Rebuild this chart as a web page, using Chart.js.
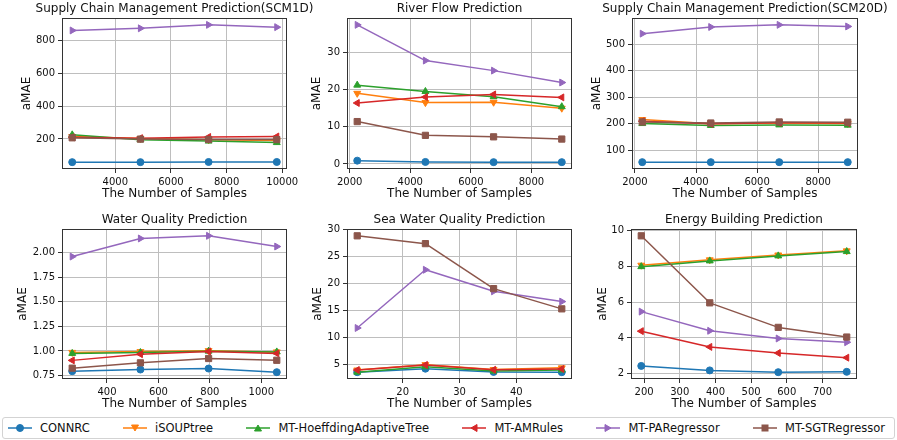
<!DOCTYPE html>
<html>
<head>
<meta charset="utf-8">
<script src="https://cdn.jsdelivr.net/npm/chart.js@4.4.1/dist/chart.umd.min.js"></script>
<style>
  html, body { margin: 0; padding: 0; background: #fff; }
  #fig { position: relative; width: 897px; height: 440px; overflow: hidden; font-family: "DejaVu Sans", sans-serif; }
  #fig canvas { position: absolute; }
  #legend {
    position: absolute; left: 2px; top: 417px; width: 893px; height: 22px;
    box-sizing: border-box; border: 1px solid #d3d3d3; border-radius: 3px;
    display: flex; justify-content: space-between; align-items: center;
    padding: 0 9px 0 5px; font-size: 11.5px; color: #111;
  }
  .item { display: flex; align-items: center; white-space: nowrap; }
  .item svg { margin-right: 8px; }
</style>
</head>
<body>
<div id="fig">
  <div id="legend"></div>
</div>
<script>
// methods, in plotting order
const methods = ["CONNRC", "iSOUPtree", "MT-HoeffdingAdaptiveTree", "MT-AMRules", "MT-PARegressor", "MT-SGTRegressor"];
const colors = ["#1f77b4", "#ff7f0e", "#2ca02c", "#d62728", "#9467bd", "#8c564b"];
const markers = ["circle", "triangleDown", "triangleUp", "triangleLeft", "triangleRight", "square"];

// Supply Chain Management (SCM1D)
const scm1dSamples = [2451, 4902, 7352, 9803];
const scm1dAmae = [
  [59, 59, 60, 60],
  [215, 203, 195, 190],
  [225, 195, 187, 178],
  [210, 205, 212, 215],
  [860, 873, 894, 880],
  [207, 199, 197, 196],
];
const scm1dXTicks = [4000, 6000, 8000, 10000];
const scm1dYTicks = [200, 400, 600, 800];

// River Flow
const riverSamples = [2250, 4500, 6750, 9000];
const riverAmae = [
  [0.9, 0.55, 0.5, 0.5],
  [19.0, 16.5, 16.6, 15.0],
  [21.2, 19.5, 18.1, 15.4],
  [16.4, 18.0, 18.7, 17.9],
  [37.4, 27.8, 25.1, 21.9],
  [11.4, 7.7, 7.3, 6.7],
];
const riverXTicks = [2000, 4000, 6000, 8000];
const riverYTicks = [0, 10, 20, 30];

// Supply Chain Management (SCM20D)
const scm20dSamples = [2241, 4483, 6724, 8966];
const scm20dAmae = [
  [56, 56, 56, 56],
  [216, 200, 203, 201],
  [201, 194, 196, 195],
  [210, 200, 204, 203],
  [539, 564, 572, 566],
  [207, 203, 207, 206],
];
const scm20dXTicks = [2000, 4000, 6000, 8000];
const scm20dYTicks = [100, 200, 300, 400, 500];

// Water Quality
const waterSamples = [265, 530, 795, 1060];
const waterAmae = [
  [0.794, 0.811, 0.821, 0.784],
  [0.985, 0.993, 1.003, 0.99],
  [0.975, 0.984, 0.998, 0.99],
  [0.904, 0.967, 0.995, 0.975],
  [1.959, 2.143, 2.170, 2.061],
  [0.825, 0.879, 0.923, 0.905],
];
const waterXTicks = [400, 600, 800, 1000];
const waterYTicks = [0.75, 1.0, 1.25, 1.5, 1.75, 2.0];

// Sea Water Quality
const seaSamples = [12, 24, 36, 48];
const seaAmae = [
  [3.5, 4.15, 3.55, 3.5],
  [3.9, 4.9, 4.0, 4.3],
  [3.5, 4.5, 3.7, 3.9],
  [3.9, 4.85, 3.95, 4.1],
  [11.7, 22.5, 18.5, 16.6],
  [28.8, 27.35, 19.0, 15.25],
];
const seaXTicks = [20, 30, 40];
const seaYTicks = [5, 10, 15, 20, 25, 30];

// Energy Building
const energySamples = [192, 384, 576, 768];
const energyAmae = [
  [2.44, 2.19, 2.09, 2.11],
  [8.06, 8.36, 8.63, 8.86],
  [7.98, 8.30, 8.58, 8.82],
  [4.38, 3.50, 3.16, 2.90],
  [5.47, 4.40, 3.97, 3.76],
  [9.70, 5.96, 4.59, 4.05],
];
const energyXTicks = [200, 300, 400, 500, 600, 700];
const energyYTicks = [2, 4, 6, 8, 10];

Chart.defaults.font.family = "'DejaVu Sans', sans-serif";
Chart.defaults.color = "#111";

const pointStyles = {
  circle: { style: "circle", rotation: 0, radius: 3.5 },
  triangleDown: { style: "triangle", rotation: 180, radius: 4 },
  triangleUp: { style: "triangle", rotation: 0, radius: 4 },
  triangleLeft: { style: "triangle", rotation: -90, radius: 4 },
  triangleRight: { style: "triangle", rotation: 90, radius: 4 },
  square: { style: "rect", rotation: 0, radius: 4.4 },
};

const TITLE_SPACE = 18;
const X_AXIS_H = 36;
const PAD_RIGHT = 36;

function paddedRange(values) {
  const lo = Math.min(...values);
  const hi = Math.max(...values);
  const pad = (hi - lo) * 0.05;
  return { min: lo - pad, max: hi + pad };
}

function panelDecor(title) {
  return {
    id: "panelDecor",
    afterDraw(chart) {
      const { ctx, chartArea: a } = chart;
      ctx.save();
      ctx.strokeStyle = "#333";
      ctx.lineWidth = 1;
      ctx.strokeRect(Math.round(a.left) + 0.5, Math.round(a.top) + 0.5,
        Math.round(a.right - a.left) - 1, Math.round(a.bottom - a.top) - 1);
      ctx.fillStyle = "#111";
      ctx.font = "12px 'DejaVu Sans', sans-serif";
      ctx.textAlign = "center";
      ctx.textBaseline = "middle";
      ctx.fillText(title, (a.left + a.right) / 2, a.top - 9);
      ctx.restore();
    },
  };
}

function axis(range, tickValues, decimals, title, fixSize) {
  return {
    type: "linear",
    min: range.min,
    max: range.max,
    afterBuildTicks: (scale) => {
      scale.ticks = tickValues
        .filter((v) => v >= range.min && v <= range.max)
        .map((v) => ({ value: v }));
    },
    afterFit: fixSize,
    ticks: {
      font: { size: 10 },
      color: "#111",
      padding: 3,
      autoSkip: false,
      maxRotation: 0,
      callback: (v) => Number(v).toFixed(decimals),
    },
    grid: { color: "#bebebe", lineWidth: 1, tickColor: "#333", tickLength: 4 },
    border: { display: false },
    title: { display: true, text: title, font: { size: 12 }, color: "#111", padding: { top: 4, bottom: 4 } },
  };
}

function makePanel(p) {
  const plotW = p.r - p.l;
  const plotH = p.b - p.t;
  const canvas = document.createElement("canvas");
  canvas.width = p.yw + plotW + PAD_RIGHT;
  canvas.height = TITLE_SPACE + plotH + X_AXIS_H;
  canvas.style.left = (p.l - p.yw) + "px";
  canvas.style.top = (p.t - TITLE_SPACE) + "px";
  document.getElementById("fig").appendChild(canvas);

  const xRange = paddedRange(p.samples);
  const yRange = paddedRange(p.values.flat());

  const datasets = p.values.map((series, i) => {
    const m = pointStyles[markers[i]];
    return {
      label: methods[i],
      data: series.map((v, j) => ({ x: p.samples[j], y: v })),
      borderColor: colors[i],
      backgroundColor: colors[i],
      borderWidth: 1.5,
      borderJoinStyle: "round",
      pointStyle: m.style,
      pointRotation: m.rotation,
      pointRadius: m.radius,
      pointBorderWidth: 1,
      order: methods.length - i,
    };
  });

  new Chart(canvas, {
    type: "line",
    data: { datasets },
    options: {
      responsive: false,
      animation: false,
      layout: { padding: { top: TITLE_SPACE, right: PAD_RIGHT, left: 0, bottom: 0 } },
      scales: {
        x: axis(xRange, p.xTicks, 0, "The Number of Samples", (s) => { s.height = X_AXIS_H; }),
        y: axis(yRange, p.yTicks, p.yDecimals, "aMAE", (s) => { s.width = p.yw; }),
      },
      plugins: { legend: { display: false }, tooltip: { enabled: false } },
    },
    plugins: [panelDecor(p.title)],
  });
}

const panels = [
  { title: "Supply Chain Management Prediction(SCM1D)", samples: scm1dSamples, values: scm1dAmae,
    xTicks: scm1dXTicks, yTicks: scm1dYTicks, yDecimals: 0, l: 62, t: 18, r: 287, b: 169, yw: 46 },
  { title: "River Flow Prediction", samples: riverSamples, values: riverAmae,
    xTicks: riverXTicks, yTicks: riverYTicks, yDecimals: 0, l: 347, t: 18, r: 572, b: 169, yw: 41 },
  { title: "Supply Chain Management Prediction(SCM20D)", samples: scm20dSamples, values: scm20dAmae,
    xTicks: scm20dXTicks, yTicks: scm20dYTicks, yDecimals: 0, l: 632, t: 18, r: 858, b: 169, yw: 46 },
  { title: "Water Quality Prediction", samples: waterSamples, values: waterAmae,
    xTicks: waterXTicks, yTicks: waterYTicks, yDecimals: 2, l: 62, t: 229, r: 287, b: 379, yw: 50 },
  { title: "Sea Water Quality Prediction", samples: seaSamples, values: seaAmae,
    xTicks: seaXTicks, yTicks: seaYTicks, yDecimals: 0, l: 347, t: 229, r: 572, b: 379, yw: 40 },
  { title: "Energy Building Prediction", samples: energySamples, values: energyAmae,
    xTicks: energyXTicks, yTicks: energyYTicks, yDecimals: 0, l: 631, t: 229, r: 857, b: 379, yw: 39 },
];

panels.forEach(makePanel);

// shared legend under the panels
const markerSvg = {
  circle: '<circle cx="12" cy="5" r="3.5"/>',
  triangleDown: '<polygon points="8.5,2 15.5,2 12,8"/>',
  triangleUp: '<polygon points="8.5,8 15.5,8 12,2"/>',
  triangleLeft: '<polygon points="9,5 15,1.5 15,8.5"/>',
  triangleRight: '<polygon points="15,5 9,1.5 9,8.5"/>',
  square: '<rect x="9" y="2" width="6" height="6"/>',
};
const legend = document.getElementById("legend");
methods.forEach((name, i) => {
  const item = document.createElement("div");
  item.className = "item";
  item.innerHTML =
    '<svg width="24" height="10" fill="' + colors[i] + '" stroke="' + colors[i] + '">' +
    '<line x1="0" y1="5" x2="24" y2="5" stroke-width="1.5"/>' +
    markerSvg[markers[i]] + "</svg><span>" + name + "</span>";
  legend.appendChild(item);
});
</script>
</body>
</html>
